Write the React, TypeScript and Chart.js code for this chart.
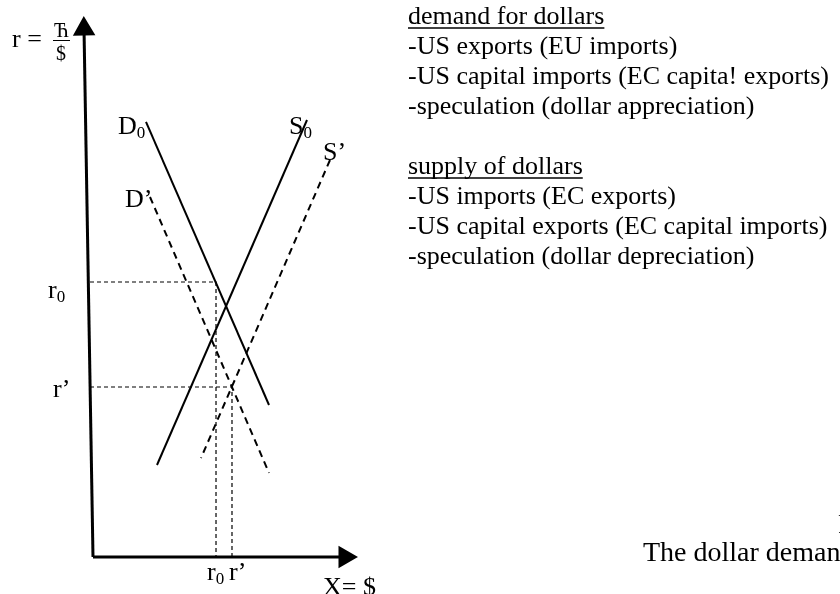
import React, { useEffect, useRef } from "react";
import { Chart, registerables } from "chart.js";

Chart.register(...registerables);

const FONT = '"Liberation Serif", "Times New Roman", serif';

// Diagram in abstract units: x = quantity of dollars (0-100), y = exchange rate r (0-100)
const axisYPts = [{ x: 0, y: 0 }, { x: -3.33, y: 97.78 }];
const axisXPts = [{ x: 0, y: 0 }, { x: 93.33, y: 0 }];
const demand0 = [{ x: 19.63, y: 80.56 }, { x: 65.19, y: 28.15 }];
const supply0 = [{ x: 79.26, y: 80.93 }, { x: 23.7, y: 17.04 }];
const demand1 = [{ x: 21.11, y: 66.67 }, { x: 65.19, y: 15.56 }];
const supply1 = [{ x: 87.78, y: 73.52 }, { x: 40.0, y: 18.33 }];
const guideR0 = [{ x: -1.11, y: 50.93 }, { x: 45.56, y: 50.93 }, { x: 45.56, y: 0 }];
const guideR1 = [{ x: -1.11, y: 31.48 }, { x: 51.48, y: 31.48 }, { x: 51.48, y: 0 }];

// Curve / axis labels: [main text, subscript or suffix, x, y]
const curveLabels: [string, string, number, number][] = [
  ["D", "0", 9.26, 78.33],
  ["S", "0", 72.59, 78.33],
  ["S", "\u2019", 85.19, 73.52],
  ["D", "\u2019", 11.85, 64.81],
  ["r", "0", -16.67, 47.96],
  ["r", "\u2019", -14.81, 29.63],
  ["r", "0", 42.22, -4.26],
  ["r", "\u2019", 50.37, -4.26],
];
const xAxisTitle = "X= $";
const xAxisTitlePos = [85.19, -7.04];
const yAxisTitle = "r =";
const yAxisTitlePos = [-30, 94.44];
const yFracTop = "\u040B";
const yFracBottom = "$";

const demandHeader = "demand for dollars";
const demandItems = [
  "-US exports (EU imports)",
  "-US capital imports (EC capita! exports)",
  "-speculation (dollar appreciation)",
];
const supplyHeader = "supply of dollars";
const supplyItems = [
  "-US imports (EC exports)",
  "-US capital exports (EC capital imports)",
  "-speculation (dollar depreciation)",
];
const captionText = "The dollar demand and supply";
const captionTop = "Figure";

const textPlugin = {
  id: "diagramText",
  afterDatasetsDraw(chart: any) {
    const ctx = chart.ctx as CanvasRenderingContext2D;
    const xs = chart.scales.x;
    const ys = chart.scales.y;
    const px = (v: number) => xs.getPixelForValue(v);
    const py = (v: number) => ys.getPixelForValue(v);
    ctx.save();
    ctx.fillStyle = "#000";
    ctx.strokeStyle = "#000";
    ctx.textBaseline = "alphabetic";
    ctx.textAlign = "left";

    for (const [main, sub, lx, ly] of curveLabels) {
      const x = px(lx);
      const y = py(ly);
      ctx.font = `26px ${FONT}`;
      ctx.fillText(main, x, y);
      const w = ctx.measureText(main).width;
      if (sub === "0") {
        ctx.font = `17px ${FONT}`;
        ctx.fillText(sub, x + w, y + 4);
      } else {
        ctx.font = `26px ${FONT}`;
        ctx.fillText(sub, x + w, y);
      }
    }

    ctx.font = `26px ${FONT}`;
    ctx.fillText(xAxisTitle, px(xAxisTitlePos[0]), py(xAxisTitlePos[1]));
    ctx.fillText(yAxisTitle, px(yAxisTitlePos[0]), py(yAxisTitlePos[1]));

    // fraction
    ctx.textAlign = "center";
    ctx.font = `20px ${FONT}`;
    ctx.fillText(yFracTop, 61.5, 37);
    ctx.fillText(yFracBottom, 61, 60);
    ctx.lineWidth = 1;
    ctx.beginPath();
    ctx.moveTo(53, 40.5);
    ctx.lineTo(70, 40.5);
    ctx.stroke();
    ctx.textAlign = "left";

    // right-hand notes
    const left = 408;
    const lineGap = 30;
    const drawBlock = (header: string, items: string[], top: number) => {
      ctx.font = `26px ${FONT}`;
      ctx.fillText(header, left, top);
      const hw = ctx.measureText(header).width;
      ctx.lineWidth = 1.5;
      ctx.beginPath();
      ctx.moveTo(left, top + 4);
      ctx.lineTo(left + hw, top + 4);
      ctx.stroke();
      items.forEach((t, i) => ctx.fillText(t, left, top + lineGap * (i + 1)));
    };
    drawBlock(demandHeader, demandItems, 24);
    drawBlock(supplyHeader, supplyItems, 174);

    ctx.font = `28px ${FONT}`;
    ctx.fillText(captionTop, 838, 533);
    ctx.fillText(captionText, 643, 561);
    ctx.restore();
  },
};

export default function App() {
  const ref = useRef<HTMLCanvasElement>(null);
  useEffect(() => {
    if (!ref.current) return;
    const solid = (data: any[], width = 2) => ({
      data,
      borderColor: "#000",
      borderWidth: width,
      pointRadius: 0,
      fill: false,
      tension: 0,
      clip: false,
    });
    const chart = new Chart(ref.current, {
      type: "line",
      data: {
        datasets: [
          {
            ...solid(axisYPts, 3),
            pointRadius: [0, 10],
            pointStyle: "triangle",
            pointRotation: [0, -1],
            pointBackgroundColor: "#000",
            pointBorderColor: "#000",
          },
          {
            ...solid(axisXPts, 3),
            pointRadius: [0, 10],
            pointStyle: "triangle",
            pointRotation: [0, 90],
            pointBackgroundColor: "#000",
            pointBorderColor: "#000",
          },
          solid(demand0, 2),
          solid(supply0, 2),
          { ...solid(demand1, 2), borderDash: [7, 5] },
          { ...solid(supply1, 2), borderDash: [7, 5] },
          { ...solid(guideR0, 1.2), borderDash: [4, 3] },
          { ...solid(guideR1, 1.2), borderDash: [4, 3] },
        ] as any,
      },
      options: {
        animation: false,
        responsive: false,
        devicePixelRatio: 1,
        layout: { padding: { left: 93, right: 477, top: 17, bottom: 37 } },
        plugins: { legend: { display: false }, tooltip: { enabled: false } },
        scales: {
          x: { type: "linear", min: 0, max: 100, display: false },
          y: { type: "linear", min: 0, max: 100, display: false },
        },
      },
      plugins: [textPlugin],
    });
    return () => chart.destroy();
  }, []);
  return (
    <div style={{ position: "fixed", left: 0, top: 0, width: 840, height: 594, background: "#fff", overflow: "hidden" }}>
      <canvas ref={ref} width={840} height={594} />
    </div>
  );
}
